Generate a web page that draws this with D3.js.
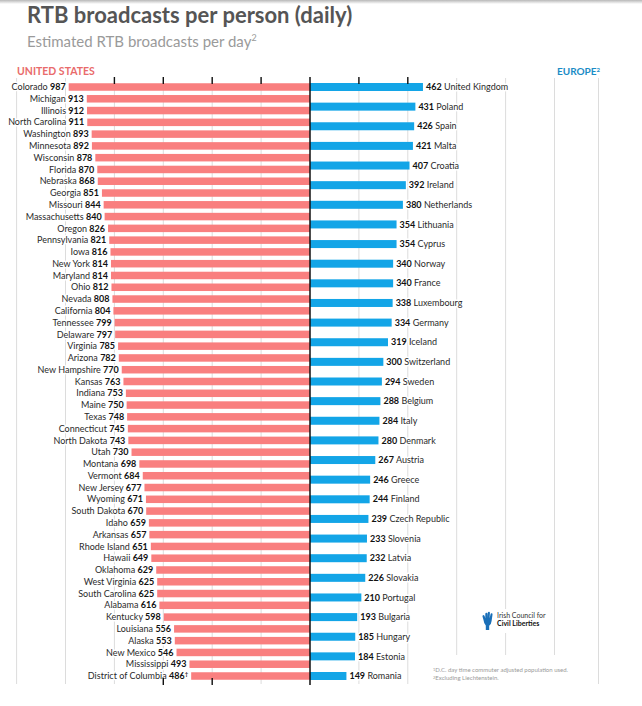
<!DOCTYPE html>
<html><head><meta charset="utf-8">
<script src="https://cdn.jsdelivr.net/npm/d3@7"></script>
<style>body{margin:0;background:#fff}svg{display:block;font-family:Lato,"Open Sans",sans-serif}</style>
</head><body>
<script>
const usStates = ["Colorado","Michigan","Illinois","North Carolina","Washington","Minnesota","Wisconsin","Florida","Nebraska","Georgia","Missouri","Massachusetts","Oregon","Pennsylvania","Iowa","New York","Maryland","Ohio","Nevada","California","Tennessee","Delaware","Virginia","Arizona","New Hampshire","Kansas","Indiana","Maine","Texas","Connecticut","North Dakota","Utah","Montana","Vermont","New Jersey","Wyoming","South Dakota","Idaho","Arkansas","Rhode Island","Hawaii","Oklahoma","West Virginia","South Carolina","Alabama","Kentucky","Louisiana","Alaska","New Mexico","Mississippi","District of Columbia"];
const usValues = [987,913,912,911,893,892,878,870,868,851,844,840,826,821,816,814,814,812,808,804,799,797,785,782,770,763,753,750,748,745,743,730,698,684,677,671,670,659,657,651,649,629,625,625,616,598,556,553,546,493,486];
const euCountries = ["United Kingdom","Poland","Spain","Malta","Croatia","Ireland","Netherlands","Lithuania","Cyprus","Norway","France","Luxembourg","Germany","Iceland","Switzerland","Sweden","Belgium","Italy","Denmark","Austria","Greece","Finland","Czech Republic","Slovenia","Latvia","Slovakia","Portugal","Bulgaria","Hungary","Estonia","Romania"];
const euValues = [462,431,426,421,407,392,380,354,354,340,340,338,334,319,300,294,288,284,280,267,246,244,239,233,232,226,210,193,185,184,149];
const gridValues = [-1200,-1000,-800,-600,-400,-200,200,400,600,800,1000,1180];
const topTicks = [-800,-600,-400,-200,200,400];
const bottomTicks = [-600,-400];

const W = 642, H = 706;
const svg = d3.select("body").append("svg").attr("width", W).attr("height", H);
svg.append("rect").attr("width", W).attr("height", H).attr("fill", "#fff");
const defs = svg.append("defs");
const g0 = defs.append("linearGradient").attr("id","topshade").attr("x1",0).attr("y1",0).attr("x2",0).attr("y2",1);
g0.append("stop").attr("offset","0").attr("stop-color","#b8b8b8");
g0.append("stop").attr("offset","1").attr("stop-color","#fff");
svg.append("rect").attr("width", W).attr("height", 4).attr("fill","url(#topshade)");

const cx = 310, k = 0.2445;
const x = d3.scaleLinear().domain([-1200, 1200]).range([cx - 1200*k, cx + 1200*k]);
const yTop = 87, yBot = 676, gTop = 78, gBot = 684;
const yUS = d3.scalePoint().domain(usStates).range([yTop, yBot]);
const yEU = d3.scalePoint().domain(euCountries).range([yTop, yBot]);

// title
svg.append("text").attr("x", 27).attr("y", 23).attr("font-size", 22).attr("font-weight", 700)
  .attr("fill", "#555").text("RTB broadcasts per person (daily)");
const sub = svg.append("text").attr("x", 27).attr("y", 47).attr("font-size", 15).attr("fill", "#9a9a9a");
sub.append("tspan").text("Estimated RTB broadcasts per day");
sub.append("tspan").attr("font-size", 9).attr("dy", -6).text("2");

svg.append("text").attr("x", 17).attr("y", 75).attr("font-size", 10.5).attr("font-weight", 700)
  .attr("fill", "#e96b6b").text("UNITED STATES");
const eu = svg.append("text").attr("x", 557).attr("y", 75).attr("font-size", 10).attr("font-weight", 700)
  .attr("fill", "#1b8cc6");
eu.append("tspan").text("EUROPE");
eu.append("tspan").attr("font-size", 6).attr("dy", -3).text("2");

// gridlines
svg.append("g").selectAll("line").data(gridValues).join("line")
  .attr("x1", d => x(d)).attr("x2", d => x(d)).attr("y1", gTop).attr("y2", gBot)
  .attr("stroke", "#dcdcdc").attr("stroke-width", 1);

// footnote / logo backgrounds
svg.append("rect").attr("x", 428).attr("y", 655).attr("width", 166).attr("height", 32).attr("fill", "#fff");
svg.append("rect").attr("x", 480).attr("y", 609).attr("width", 66).attr("height", 24).attr("fill", "#fff");

// bars
const usH = 7.5, euH = 8;
svg.append("g").selectAll("rect").data(usStates).join("rect")
  .attr("x", (d,i) => x(-usValues[i])).attr("y", d => yUS(d) - usH/2)
  .attr("width", (d,i) => x(0) - x(-usValues[i])).attr("height", usH).attr("fill", "#f97f7f");
svg.append("g").selectAll("rect").data(euCountries).join("rect")
  .attr("x", x(0)).attr("y", d => yEU(d) - euH/2)
  .attr("width", (d,i) => x(euValues[i]) - x(0)).attr("height", euH).attr("fill", "#13a5e7");

// labels
const halo = sel => sel.attr("stroke", "#fff").attr("stroke-width", 3).attr("paint-order", "stroke").attr("stroke-linejoin","round");
const usL = svg.append("g").attr("font-size", 9).selectAll("text").data(usStates).join("text")
  .attr("x", (d,i) => x(-usValues[i]) - 3).attr("y", d => yUS(d)).attr("dy", "0.35em")
  .attr("text-anchor", "end").attr("fill", "#2a2a2a").call(halo);
usL.append("tspan").text(d => d + " ");
usL.append("tspan").attr("font-weight", 700).attr("fill", "#111").text((d,i) => usValues[i]);
usL.filter(d => d === "District of Columbia").append("tspan").attr("font-size", 6).attr("dy", -3).attr("font-weight", 700).text("\u2020");

const euL = svg.append("g").attr("font-size", 9).selectAll("text").data(euCountries).join("text")
  .attr("x", (d,i) => x(euValues[i]) + 3).attr("y", d => yEU(d)).attr("dy", "0.35em")
  .attr("fill", "#2a2a2a").call(halo);
euL.append("tspan").attr("font-weight", 700).attr("fill", "#111").text((d,i) => euValues[i]);
euL.append("tspan").text(d => " " + d);

// ticks & center line
svg.append("g").selectAll("line").data(topTicks).join("line")
  .attr("x1", d => x(d)).attr("x2", d => x(d)).attr("y1", 77).attr("y2", 84)
  .attr("stroke", "#111").attr("stroke-width", 1.4);
svg.append("g").selectAll("line").data(bottomTicks).join("line")
  .attr("x1", d => x(d)).attr("x2", d => x(d)).attr("y1", 678).attr("y2", 685)
  .attr("stroke", "#111").attr("stroke-width", 1.4);
svg.append("line").attr("x1", x(0)).attr("x2", x(0)).attr("y1", 77).attr("y2", 685)
  .attr("stroke", "#111").attr("stroke-width", 1.5);

// logo
const logo = svg.append("g").attr("transform", "translate(482,612)");
logo.append("path").attr("d", "M1.5,8 L0.5,4.5 Q0.3,3 1.5,3 Q2.5,3 2.8,4.5 L3.3,6.5 L3.3,2 Q3.3,0.8 4.4,0.8 Q5.5,0.8 5.5,2 L5.5,6 L5.8,0.8 Q5.9,-0.3 7,-0.3 Q8,-0.2 7.9,1 L7.6,6.2 L8.6,2 Q8.9,1 9.9,1.3 Q10.8,1.7 10.5,2.8 L9.6,9 Q9.2,12.5 7.2,13.8 L7.2,18 L3.8,18 L3.8,13.6 Q2,12 1.5,8 Z")
  .attr("fill", "#1a6fb8");
logo.append("text").attr("x", 15).attr("y", 6).attr("font-size", 7).attr("fill", "#333").text("Irish Council for");
logo.append("text").attr("x", 15).attr("y", 14).attr("font-size", 7).attr("font-weight", 700).attr("fill", "#111").text("Civil Liberties");

// footnotes
const fn = svg.append("g").attr("font-size", 6).attr("fill", "#9a9a9a");
const f1 = fn.append("text").attr("x", 433).attr("y", 672);
f1.append("tspan").attr("font-size", 4).attr("dy", -1.5).text("1");
f1.append("tspan").attr("dy", 1.5).text("D.C. day time commuter adjusted population used.");
const f2 = fn.append("text").attr("x", 433).attr("y", 680);
f2.append("tspan").attr("font-size", 4).attr("dy", -1.5).text("2");
f2.append("tspan").attr("dy", 1.5).text("Excluding Liechtenstein.");
</script>
</body></html>
